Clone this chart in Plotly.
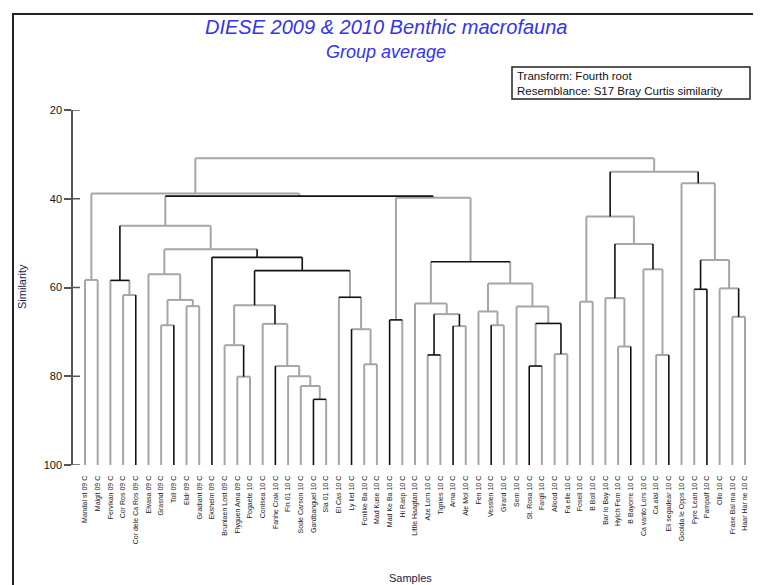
import plotly.graph_objects as go

# ---------------- data ----------------
sample_labels = [
    "Mandal st 09 C", "Malgit 09 C", "Fervikan 09 C", "Cor Ros 09 C", "Cor dele Ca Ros 09 C",
    "Elvasa 09 C", "Grasnd 09 C", "Toll 09 C", "Eldr 09 C", "Gradiant 09 C",
    "Ekshelm 09 C", "Brunlaen Lost 09 C", "Flyguen Ama 09 C", "Pogaete 10 C", "Conlsea 10 C",
    "Fanhe Crak 10 C", "Fin 01 10 C", "Sode Carson 10 C", "Gardbanguel 10 C", "Sla 01 10 C",
    "El Cas 10 C", "Ly liet 10 C", "Fonlike Ba 10 C", "Mad Kuse 10 C", "Mad Ke Ba 10 C",
    "Hi Rasp 10 C", "Little Haagtan 10 C", "Aze Lorn 10 C", "Tignies 10 C", "Arna 10 C",
    "Ale Mol 10 C", "Fen 10 C", "Vesslen 10 C", "Girard 10 C", "Sem 10 C",
    "St. Rosa 10 C", "Fargli 10 C", "Allood 10 C", "Fa elle 10 C", "Fosell 10 C",
    "B Boll 10 C", "Bar lo Bay 10 C", "Hylch Fem 10 C", "B Bayorre 10 C", "Ca vanto Lors 10 C",
    "Ca alal 10 C", "Eli segadear 10 C", "Goolda le Opps 10 C", "Fyre Lean 10 C", "Pampalf 10 C",
    "Ollo 10 C", "Frase Bal ma 10 C", "Haar Har ne 10 C",
]

# merges: (child_a, child_b, similarity); int = sample index, "mK" = merge K
merges = [
    (0, 1, 58.3), (3, 4, 61.7), (2, "m1", 58.4), (6, 7, 68.5), (8, 9, 64.2),
    ("m3", "m4", 62.8), (5, "m5", 57.0), (12, 13, 80.1), (11, "m7", 73.0), (18, 19, 85.2),
    (17, "m9", 82.2), (16, "m10", 80.0), (15, "m11", 77.7), (14, "m12", 68.2), ("m8", "m13", 64.0),
    (22, 23, 77.3), (21, "m15", 69.4), (20, "m16", 62.2), ("m14", "m17", 56.2), (10, "m18", 53.2),
    ("m6", "m19", 51.4), ("m2", "m20", 46.1), (24, 25, 67.3), (27, 28, 75.2), (29, 30, 68.7),
    ("m23", "m24", 66.0), (26, "m25", 63.6), (32, 33, 68.5), (31, "m27", 65.4), (35, 36, 77.7),
    (37, 38, 75.0), ("m29", "m30", 68.1), (34, "m31", 64.3), ("m28", "m32", 59.1), ("m26", "m33", 54.2),
    ("m22", "m34", 39.8), ("m21", "m35", 39.4), ("m0", "m36", 38.8), (39, 40, 63.2), (42, 43, 73.3),
    (41, "m39", 62.4), (45, 46, 75.2), (44, "m41", 55.9), ("m40", "m42", 50.2), ("m38", "m43", 44.0),
    (48, 49, 60.4), (51, 52, 66.6), (50, "m46", 60.2), ("m45", "m47", 53.8), (47, "m48", 36.5),
    ("m44", "m49", 33.9), ("m37", "m50", 30.9),
]

# SIMPROF-like flags: 'k' = black branch, 'g' = grey branch
sample_sig = "ggggkggkgg" "kggggkggkg" "gkggkggggk" "ggkggkgggg" "gggkggkggk" "ggg"
merge_stem_sig = ["g", "g", "k", "g", "g", "g", "g", "k", "g", "g",
                  "g", "g", "g", "k", "k", "g", "g", "g", "k", "k",
                  "g", "g", "g", "k", "k", "g", "g", "g", "g", "g",
                  "k", "g", "g", "g", "g", "g", "g", "g", "g", "g",
                  "k", "g", "k", "g", "k", "k", "k", "g", "g", "k",
                  "g", "g"]
merge_bar_sig = ["g", "g", "k", "g", "g", "g", "g", "g", "g", "k",
                 "g", "g", "g", "g", "g", "g", "g", "k", "k", "k",
                 "g", "g", "k", "k", "g", "g", "g", "g", "g", "k",
                 "g", "k", "g", "g", "k", "g", "k", "g", "g", "g",
                 "g", "g", "g", "g", "g", "k", "g", "g", "g", "g",
                 "g", "g"]

y_ticks = [20, 40, 60, 80, 100]

# ---------------- build segments ----------------
BOTTOM = 100
pos = {}


def node_xy(c):
    if isinstance(c, int):
        return float(c), BOTTOM, sample_sig[c]
    k = int(c[1:])
    return pos[k][0], pos[k][1], merge_stem_sig[k]


segs = {"g": ([], []), "k": ([], [])}
for k, (a, b, s) in enumerate(merges):
    xa, ya, ca = node_xy(a)
    xb, yb, cb = node_xy(b)
    pos[k] = ((xa + xb) / 2.0, s)
    for (x0, y0, col) in ((xa, ya, ca), (xb, yb, cb)):
        segs[col][0].extend([x0, x0, None])
        segs[col][1].extend([y0, s, None])
    bc = merge_bar_sig[k]
    segs[bc][0].extend([xa, xb, None])
    segs[bc][1].extend([s, s, None])

fig = go.Figure()
fig.add_trace(go.Scatter(x=segs["g"][0], y=segs["g"][1], mode="lines",
                         line=dict(color="#a6a6a6", width=2), hoverinfo="skip",
                         showlegend=False, cliponaxis=False))
fig.add_trace(go.Scatter(x=segs["k"][0], y=segs["k"][1], mode="lines",
                         line=dict(color="#111111", width=1.6), hoverinfo="skip",
                         showlegend=False, cliponaxis=False))

# page offset (html body margin)
OFF = 8
W, H = 761 - OFF, 585 - OFF
PL, PR, PT, PB = 73, 756, 110, 465  # plot area in page pixels
L, R, T, B = PL - OFF, W - (PR - OFF), PT - OFF, H - (PB - OFF)
pw, ph = PR - PL, PB - PT
n = len(sample_labels)
px_per = (745 - 85) / (n - 1)
x0r = -(85 - PL) / px_per
x1r = x0r + pw / px_per


def px(xp):
    return (xp - PL) / pw


def py(yp):
    return (PB - yp) / ph


fig.update_xaxes(range=[x0r, x1r], tickmode="array", tickvals=list(range(n)),
                 ticktext=sample_labels, tickangle=-90, showgrid=False, zeroline=False,
                 showline=False, ticks="outside", ticklen=7, tickcolor="rgba(0,0,0,0)",
                 tickfont=dict(family="Liberation Sans", size=7, color="#1a1a2a"))
fig.update_yaxes(range=[100, 20], tickmode="array", tickvals=y_ticks,
                 ticktext=[str(v) for v in y_ticks], showgrid=False, zeroline=False,
                 showline=True, linecolor="#555555", linewidth=1.5, ticks="outside",
                 ticklen=7, tickwidth=1.5, tickcolor="#555555",
                 tickfont=dict(family="Liberation Sans", size=11, color="#111111"))

shapes = []
for v in y_ticks:
    shapes.append(dict(type="line", xref="paper", yref="y", x0=0, x1=7 / pw, y0=v, y1=v,
                       line=dict(color="#555555", width=1.5)))
# outer frame
shapes.append(dict(type="rect", xref="paper", yref="paper", x0=px(13), x1=px(800),
                   y0=py(620), y1=py(14), line=dict(color="#222222", width=2)))
# info box
shapes.append(dict(type="rect", xref="paper", yref="paper", x0=px(512), x1=px(750),
                   y0=py(99), y1=py(67), line=dict(color="#222222", width=1.5),
                   fillcolor="white", layer="below"))

annotations = [
    dict(text="<i>DIESE 2009 &amp; 2010 Benthic macrofauna</i>", xref="paper", yref="paper",
         x=px(386), y=py(27), xanchor="center", yanchor="middle", showarrow=False,
         font=dict(family="Liberation Sans", size=20, color="#3333f0")),
    dict(text="<i>Group average</i>", xref="paper", yref="paper",
         x=px(386), y=py(52), xanchor="center", yanchor="middle", showarrow=False,
         font=dict(family="Liberation Sans", size=18, color="#3333f0")),
    dict(text="Transform: Fourth root<br>Resemblance: S17 Bray Curtis similarity",
         xref="paper", yref="paper", x=px(515), y=py(83), xanchor="left", yanchor="middle",
         showarrow=False, align="left",
         font=dict(family="Liberation Sans", size=11.5, color="#111111")),
    dict(text="Similarity", xref="paper", yref="paper", x=px(22), y=py(287), textangle=-90,
         xanchor="center", yanchor="middle", showarrow=False,
         font=dict(family="Liberation Sans", size=11, color="#222244")),
    dict(text="Samples", xref="paper", yref="paper", x=px(410), y=py(578),
         xanchor="center", yanchor="middle", showarrow=False,
         font=dict(family="Liberation Sans", size=11, color="#222244")),
]

fig.update_layout(width=W, height=H, margin=dict(l=L, r=R, t=T, b=B),
                  paper_bgcolor="white", plot_bgcolor="white",
                  shapes=shapes, annotations=annotations, showlegend=False)

fig.write_html("out.html")
